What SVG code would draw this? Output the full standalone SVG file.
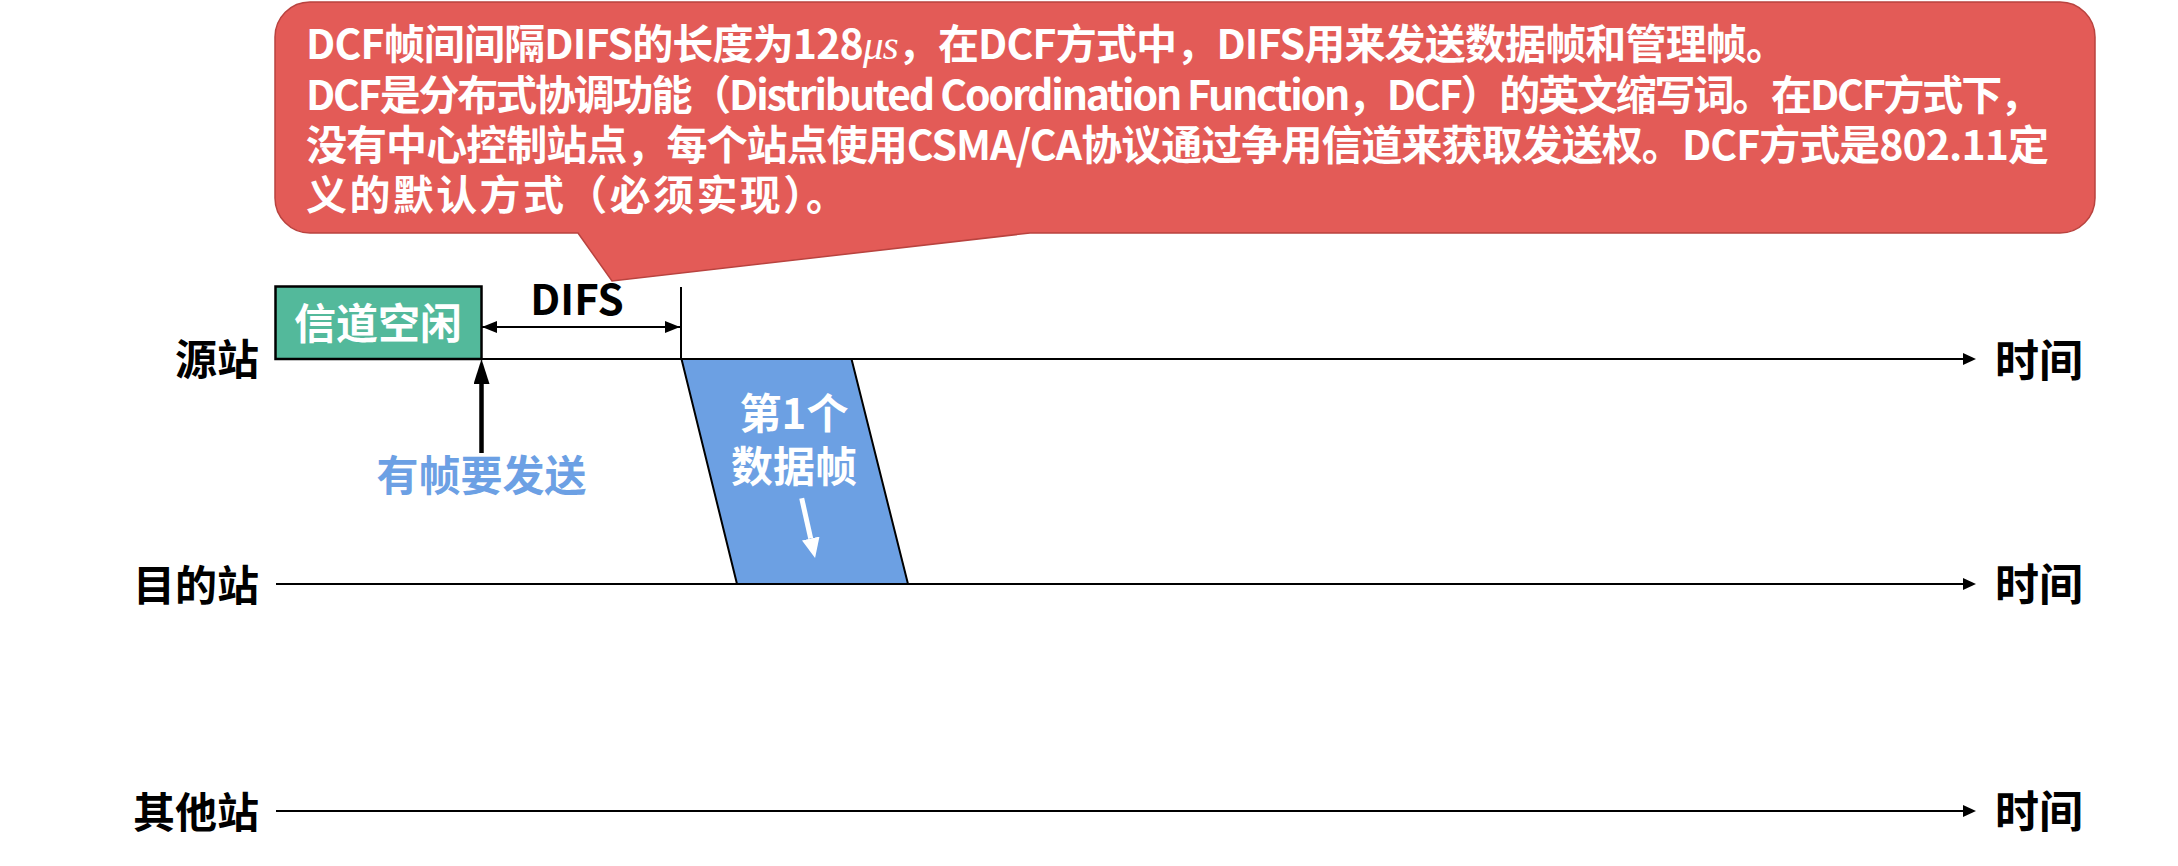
<svg xmlns="http://www.w3.org/2000/svg" width="2178" height="866" viewBox="0 0 2178 866">
<style>
  text { font-family: "Noto Sans CJK SC", "Noto Sans", sans-serif; font-weight: bold; }
  .bub { fill: #ffffff; font-size: 41px; }
  .lbl { fill: #000000; font-size: 42px; }
  .time { fill: #000000; font-size: 44px; }
  .wht { fill: #ffffff; font-size: 42px; }
  .tl { stroke: #000000; stroke-width: 2; fill: none; }
</style>
<defs>
  <marker id="tlArrow" markerUnits="userSpaceOnUse" markerWidth="14" markerHeight="12" refX="3" refY="6" orient="auto">
    <path d="M0,0 L13,6 L0,12 z" fill="#000000"/>
  </marker>
  <marker id="difsArrow" markerUnits="userSpaceOnUse" markerWidth="16" markerHeight="12" refX="15" refY="6" orient="auto-start-reverse">
    <path d="M0,0 L15,6 L0,12 z" fill="#000000"/>
  </marker>
  <marker id="upArrow" markerUnits="userSpaceOnUse" markerWidth="26" markerHeight="16" refX="0" refY="8" orient="auto">
    <path d="M0,0 L25,8 L0,16 z" fill="#000000"/>
  </marker>
  <marker id="whiteArrow" markerUnits="userSpaceOnUse" markerWidth="21" markerHeight="18" refX="0" refY="9" orient="auto">
    <path d="M0,0 L20,9 L0,18 z" fill="#ffffff"/>
  </marker>
</defs>
<rect width="2178" height="866" fill="#ffffff"/>

<g id="callout">
  <path d="M310,2 H2060 A35,35 0 0 1 2095,37 V198 A35,35 0 0 1 2060,233 H1030 L612,281 L578,233 H310 A35,35 0 0 1 275,198 V37 A35,35 0 0 1 310,2 Z" fill="#E35B57" stroke="#B9433F" stroke-width="1.5"/>
  <text class="bub" x="306" y="59" textLength="1481">DCF帧间间隔DIFS的长度为128<tspan font-family="'Liberation Serif', serif" font-style="italic" font-weight="normal">μs</tspan>，在DCF方式中，DIFS用来发送数据帧和管理帧。</text>
  <text class="bub" x="306" y="110" textLength="1735">DCF是分布式协调功能（Distributed Coordination Function，DCF）的英文缩写词。在DCF方式下，</text>
  <text class="bub" x="306" y="160" textLength="1743">没有中心控制站点，每个站点使用CSMA/CA协议通过争用信道来获取发送权。DCF方式是802.11定</text>
  <text class="bub" x="306" y="210" textLength="541">义的默认方式（必须实现）。</text>
</g>

<g id="frame1">
  <polygon points="681.5,359 851.5,359 908,584 737,584" fill="#6CA0E3" stroke="#000000" stroke-width="2"/>
  <text class="wht" x="794" y="429" text-anchor="middle">第1个</text>
  <text class="wht" x="794" y="482" text-anchor="middle">数据帧</text>
  <line x1="801.7" y1="498.3" x2="810.7" y2="538.5" stroke="#ffffff" stroke-width="5" marker-end="url(#whiteArrow)"/>
</g>

<g id="idle">
  <rect x="275.5" y="286.5" width="206" height="72.5" fill="#53B99B" stroke="#000000" stroke-width="2.5"/>
  <text class="wht" x="378" y="339" text-anchor="middle">信道空闲</text>
</g>

<g id="difs">
  <text class="lbl" x="577" y="315" text-anchor="middle">DIFS</text>
  <line x1="681" y1="287" x2="681" y2="359" stroke="#000000" stroke-width="2"/>
</g>

<g id="label-src">
  <text class="lbl" x="259" y="375" text-anchor="end">源站</text>
  <text class="time" x="1995" y="377">时间</text>
</g>
<g id="label-dst">
  <text class="lbl" x="259" y="601" text-anchor="end">目的站</text>
  <text class="time" x="1995" y="601">时间</text>
</g>
<g id="label-other">
  <text class="lbl" x="259" y="828" text-anchor="end">其他站</text>
  <text class="time" x="1995" y="828">时间</text>
</g>

<g id="send">
  <text x="481.5" y="491" text-anchor="middle" font-size="42" fill="#6CA0E4">有帧要发送</text>
</g>

<g id="connectors">
  <line class="tl" x1="275" y1="359" x2="1966" y2="359" marker-end="url(#tlArrow)"/>
  <line class="tl" x1="276" y1="584" x2="1966" y2="584" marker-end="url(#tlArrow)"/>
  <line class="tl" x1="276" y1="811" x2="1966" y2="811" marker-end="url(#tlArrow)"/>
  <line x1="482" y1="327" x2="680" y2="327" stroke="#000000" stroke-width="2" marker-start="url(#difsArrow)" marker-end="url(#difsArrow)"/>
  <line x1="481.5" y1="453" x2="481.5" y2="384" stroke="#000000" stroke-width="4.5" marker-end="url(#upArrow)"/>
</g>
</svg>
